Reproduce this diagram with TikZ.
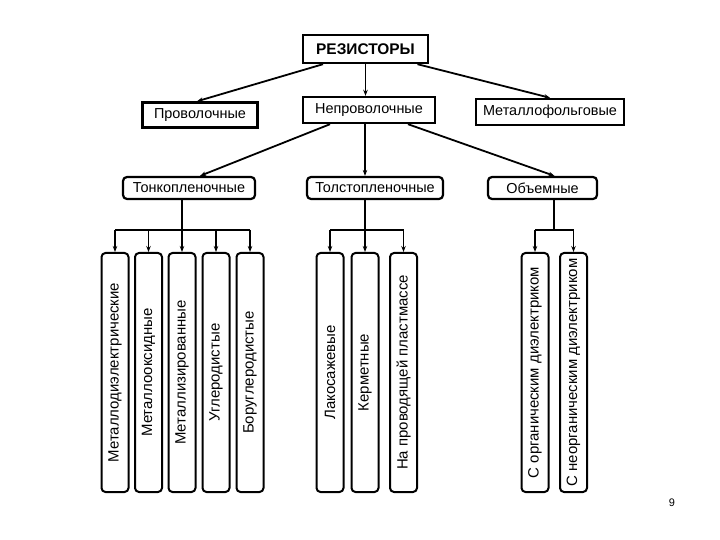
\documentclass[tikz,border=0pt]{standalone}
\usepackage{fontspec}
\setmainfont{Liberation Sans}
\usetikzlibrary{arrows.meta}
\begin{document}
\begin{tikzpicture}[x=1bp,y=-1bp,
  txt/.style={font=\fontsize{14.5}{16}\selectfont},
  sqbox/.style={draw,line width=2.4bp,inner sep=0pt,txt},
  rbox/.style={draw,line width=2.2bp,rounded corners=4bp,inner sep=0pt,minimum height=22bp,txt},
  vbox/.style={draw,line width=2bp,rounded corners=4bp,rotate=90,minimum width=239bp,minimum height=27bp,inner sep=0pt,font=\fontsize{15}{16}\selectfont},
  arr/.style={line width=1.8bp,-{Stealth[length=6bp,width=4.5bp]}},
  ln/.style={line width=1.8bp}]
\useasboundingbox (0,0) rectangle (720,540);

% top
\node[sqbox,minimum width=125bp,minimum height=28bp,font=\fontsize{15.5}{17}\selectfont\bfseries] (res) at (365.5,49) {РЕЗИСТОРЫ};
% second row
\node[sqbox,minimum width=115bp,minimum height=25bp] (pro) at (200,115) {Проволочные};
\node[sqbox,minimum width=132bp,minimum height=26bp] (nep) at (369,110) {Непроволочные};
\node[sqbox,minimum width=148bp,minimum height=26bp] (met) at (550,112) {Металлофольговые};
% third row
\node[rbox,minimum width=132bp] (ton) at (189,188) {Тонкопленочные};
\node[rbox,minimum width=136bp] (tol) at (375,188) {Толстопленочные};
\node[rbox,minimum width=109bp] (obj) at (542.5,188) {Объемные};

% vertical boxes
\node[vbox] (a1) at (115,372.5) {Металлодиэлектрические};
\node[vbox] (a2) at (148.5,372.5) {Металлооксидные};
\node[vbox] (a3) at (182,372.5) {Металлизированные};
\node[vbox] (a4) at (216,372.5) {Углеродистые};
\node[vbox] (a5) at (250,372.5) {Боруглеродистые};

\node[vbox] (b1) at (330,372.5) {Лакосажевые};
\node[vbox] (b2) at (365,372.5) {Керметные};
\node[vbox] (b3) at (403.5,372.5) {На проводящей пластмассе};

\node[vbox] (c1) at (535,372.5) {С органическим диэлектриком};
\node[vbox] (c2) at (573.5,372.5) {С неорганическим диэлектриком};

\node[font=\fontsize{11}{13}\selectfont] (pg) at (672,503) {9};

% connectors top -> second row
\draw[arr] ([xshift=-42.5bp]res.south) -- ([xshift=-3bp]pro.north);
\draw[arr] (res.south) -- (res.south |- nep.north);
\draw[arr] ([xshift=52bp]res.south) -- (met.north);

% second -> third
\draw[arr] ([xshift=-39bp]nep.south) -- ([xshift=11bp]ton.north);
\draw[arr] ([xshift=-4bp]nep.south) -- ([xshift=-4bp]nep.south |- tol.north);
\draw[arr] ([xshift=39bp]nep.south) -- ([xshift=12bp]obj.north);

% buses
\coordinate (j1) at (182,230);
\coordinate (j2) at (365,230);
\coordinate (j3) at (554,230);

\draw[ln] (j1 |- ton.south) -- (j1);
\draw[ln] (j1 -| a1) -- (j1 -| a5);
\foreach \n in {a1,a2,a3,a4,a5} \draw[arr] (j1 -| \n) -- (\n.east);

\draw[ln] (j2 |- tol.south) -- (j2);
\draw[ln] (j2 -| b1) -- (j2 -| b3);
\foreach \n in {b1,b2,b3} \draw[arr] (j2 -| \n) -- (\n.east);

\draw[ln] (j3 |- obj.south) -- (j3);
\draw[ln] (j3 -| c1) -- (j3 -| c2);
\foreach \n in {c1,c2} \draw[arr] (j3 -| \n) -- (\n.east);
\end{tikzpicture}
\end{document}
